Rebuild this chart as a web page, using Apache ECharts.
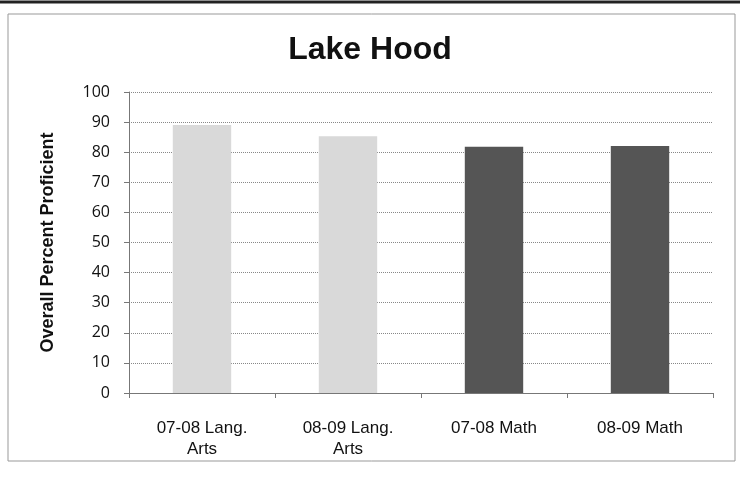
<!DOCTYPE html>
<html><head><meta charset="utf-8">
<script src="https://cdn.jsdelivr.net/npm/echarts@6/dist/echarts.min.js"></script>
<style>html,body{margin:0;padding:0;background:#fff}#c{width:740px;height:488px}</style>
</head><body><div id="c"></div>
<script>
const categories = ['07-08 Lang.\nArts', '08-09 Lang.\nArts', '07-08 Math', '08-09 Math'];
const values = [89, 85.3, 81.8, 82.1];
const barColors = ['#d9d9d9', '#d9d9d9', '#555555', '#555555'];
const yTicks = [0, 10, 20, 30, 40, 50, 60, 70, 80, 90, 100];

const chart = echarts.init(document.getElementById('c'));
chart.setOption({
  animation: false,
  backgroundColor: '#fff',
  title: {
    text: 'Lake Hood', left: 'center', top: 29,
    textStyle: {fontFamily: 'Liberation Sans', fontWeight: 'bold', fontSize: 32, color: '#111'}
  },
  graphic: [
    {type: 'line', shape: {x1: 0, y1: 2, x2: 740, y2: 2}, style: {stroke: '#222', lineWidth: 3}},
    {type: 'rect', shape: {x: 8, y: 14, width: 727, height: 447}, style: {fill: 'none', stroke: '#999', lineWidth: 1}}
  ],
  grid: {left: 129, right: 27, top: 92, bottom: 95},
  xAxis: {
    type: 'category', data: categories,
    axisLine: {lineStyle: {color: '#777'}},
    axisTick: {show: true, length: 5, lineStyle: {color: '#777'}},
    axisLabel: {fontFamily: 'Liberation Sans', fontSize: 17, color: '#111', margin: 25, lineHeight: 21, interval: 0}
  },
  yAxis: {
    type: 'value', min: 0, max: 100, interval: 10,
    name: 'Overall Percent Proficient', nameLocation: 'middle', nameGap: 72,
    nameTextStyle: {fontFamily: 'Liberation Sans', fontWeight: 'bold', fontSize: 18, color: '#111'},
    axisLine: {show: true, lineStyle: {color: '#777'}},
    axisTick: {show: true, length: 5, lineStyle: {color: '#777'}},
    splitLine: {lineStyle: {color: '#888', type: 'dotted'}},
    axisLabel: {fontFamily: 'Open Sans', fontSize: 16, color: '#111', margin: 19,
      formatter: v => yTicks.includes(v) ? String(v) : ''}
  },
  series: [{
    type: 'bar', barWidth: '40%',
    data: values.map((v, i) => ({value: v, itemStyle: {color: barColors[i]}}))
  }]
});
</script></body></html>
